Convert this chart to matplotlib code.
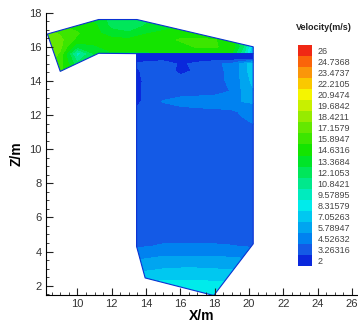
import numpy as np
import matplotlib
matplotlib.use('Agg')
import matplotlib.pyplot as plt
from matplotlib.colors import ListedColormap, BoundaryNorm
from matplotlib.patches import Polygon
from matplotlib.ticker import MultipleLocator

plt.rcParams['font.family'] = ['Liberation Sans', 'DejaVu Sans']

# contour levels shown in the legend
cbar_levels = [2, 3.26316, 4.52632, 5.78947, 7.05263, 8.31579, 9.57895,
               10.8421, 12.1053, 13.3684, 14.6316, 15.8947, 17.1579,
               18.4211, 19.6842, 20.9474, 22.2105, 23.4737, 24.7368, 26]
band_colors = ['#0a28dc', '#145ae6', '#0082f0', '#00a5f0', '#00c8f0',
               '#00ebeb', '#00ebbe', '#00e88c', '#00e65a', '#00e428',
               '#14e400', '#3ce600', '#64e800', '#96eb00', '#c8f000',
               '#f5f500', '#fac800', '#fa960a', '#fa640a', '#f02814']

# inlet duct outline and velocity samples (m/s)
duct_x = [8.25, 11.24, 13.47, 20.25, 20.25, 13.47, 11.24, 9.0]
duct_z = [16.75, 17.6, 17.6, 16.0, 15.6, 15.6, 15.62, 14.56]
duct_gx = [8.2, 9.0, 10.0, 11.0, 12.0, 13.0, 14.0, 15.0, 16.0, 17.0, 18.0, 19.0, 19.7, 20.4]
duct_gz = [14.4, 15.0, 15.6, 16.0, 16.4, 16.8, 17.2, 17.7]
duct_v = [
    [16.5, 16.0, 15.0, 14.5, 14.5, 14.5, 14.5, 14.5, 14.5, 14.5, 14.5, 14.5, 12.0, 6.0],
    [17.5, 16.5, 12.5, 13.5, 14.5, 14.5, 14.5, 14.5, 14.5, 14.5, 14.5, 14.5, 12.0, 6.0],
    [18.0, 17.0, 10.0, 13.5, 14.5, 14.5, 14.5, 14.5, 15.0, 15.0, 15.0, 14.5, 11.0, 5.0],
    [18.0, 17.5, 13.5, 14.5, 15.0, 15.0, 15.0, 15.5, 15.5, 16.0, 16.0, 15.5, 12.0, 6.0],
    [18.0, 17.5, 15.5, 15.0, 15.0, 15.0, 15.5, 15.5, 16.0, 16.0, 16.0, 15.0, 12.0, 6.0],
    [17.5, 17.0, 16.0, 15.0, 14.0, 13.5, 14.5, 15.0, 15.5, 15.5, 15.0, 14.0, 11.0, 6.0],
    [16.5, 16.0, 15.5, 15.0, 13.0, 12.8, 13.5, 14.0, 14.5, 14.0, 13.5, 12.0, 10.0, 6.0],
    [15.5, 15.0, 14.5, 14.0, 13.0, 12.8, 13.0, 13.0, 13.0, 13.0, 12.0, 11.0, 9.0, 6.0],
]

# main chamber outline and velocity samples (m/s)
cham_x = [13.45, 20.25, 20.25, 17.95, 13.95, 13.45]
cham_z = [15.6, 15.6, 4.45, 1.42, 2.45, 4.3]
cham_gx = [13.4, 14.2, 15.0, 16.0, 17.0, 18.0, 19.0, 19.6, 20.4]
cham_gz = [1.4, 2.2, 2.9, 3.6, 4.3, 5.0, 8.0, 11.0, 12.2, 12.8, 13.4, 14.0, 14.6, 15.0, 15.3, 15.7]
cham_v = [
    [9.2, 9.3, 9.4, 9.4, 9.4, 9.3, 9.2, 9.1, 9.0],
    [8.1, 8.3, 8.5, 8.5, 8.5, 8.4, 8.3, 8.2, 8.1],
    [6.8, 7.0, 7.2, 7.3, 7.3, 7.2, 7.1, 7.0, 6.9],
    [5.6, 5.8, 6.0, 6.0, 6.0, 6.0, 5.9, 5.8, 5.7],
    [4.4, 4.5, 4.7, 4.7, 4.7, 4.7, 4.6, 4.5, 4.4],
    [3.9, 3.9, 3.9, 3.9, 3.9, 3.9, 3.9, 3.9, 3.9],
    [3.9, 3.9, 3.9, 3.9, 3.9, 3.9, 3.9, 3.9, 3.9],
    [3.9, 3.9, 3.9, 3.9, 3.9, 3.9, 3.9, 4.0, 4.2],
    [3.5, 3.9, 3.9, 4.0, 4.1, 4.2, 4.3, 4.7, 5.2],
    [2.9, 3.8, 4.6, 5.0, 5.2, 5.3, 5.5, 5.8, 6.0],
    [2.8, 3.9, 3.9, 3.9, 3.9, 4.0, 4.6, 5.9, 7.2],
    [2.8, 3.8, 4.0, 3.8, 4.0, 4.1, 4.8, 6.0, 7.8],
    [3.0, 3.9, 4.1, 2.9, 3.5, 4.2, 4.8, 6.2, 8.4],
    [3.4, 4.0, 4.2, 3.0, 3.6, 4.3, 4.8, 6.2, 8.4],
    [2.6, 2.6, 2.6, 2.6, 2.6, 2.6, 2.7, 2.8, 3.0],
    [2.3, 2.3, 2.3, 2.3, 2.3, 2.3, 2.3, 2.3, 2.3],
]

bounds = cbar_levels + [cbar_levels[-1] + (cbar_levels[1] - cbar_levels[0])]
cmap = ListedColormap(band_colors)
norm = BoundaryNorm(bounds, cmap.N)

fig = plt.figure(figsize=(3.58, 3.23), dpi=100)
ax = fig.add_axes([46 / 358, 28 / 323, 311 / 358, 282.3 / 323])

for gx, gz, v, px, pz in [(duct_gx, duct_gz, duct_v, duct_x, duct_z),
                          (cham_gx, cham_gz, cham_v, cham_x, cham_z)]:
    X, Z = np.meshgrid(gx, gz)
    cs = ax.contourf(X, Z, np.array(v), levels=bounds, cmap=cmap, norm=norm)
    outline = Polygon(np.column_stack([px, pz]), closed=True, transform=ax.transData)
    cs.set_clip_path(outline)
    ax.add_patch(Polygon(np.column_stack([px, pz]), closed=True, fill=False,
                         edgecolor='#0a32d2', lw=0.8))

ax.set_xlim(8.17, 26.3)
ax.set_ylim(1.45, 18)
ax.spines['top'].set_visible(False)
ax.spines['right'].set_visible(False)
ax.xaxis.set_major_locator(MultipleLocator(2))
ax.xaxis.set_minor_locator(MultipleLocator(0.5))
ax.yaxis.set_major_locator(MultipleLocator(2))
ax.yaxis.set_minor_locator(MultipleLocator(0.5))
ax.tick_params(which='both', direction='in', color='#222222')
ax.tick_params(which='major', length=5, labelsize=8, labelcolor='#333333', pad=3)
ax.tick_params(which='minor', length=2.5)
ax.set_xticks([10, 12, 14, 16, 18, 20, 22, 24, 26])
ax.set_yticks([2, 4, 6, 8, 10, 12, 14, 16, 18])
ax.set_xlabel('X/m', fontsize=10, fontweight='bold', labelpad=0)
ax.set_ylabel('Z/m', fontsize=10, fontweight='bold', labelpad=4)

# legend bar
cax = fig.add_axes([298 / 358, 57 / 323, 14 / 358, 221 / 323])
cax.imshow(np.arange(20).reshape(-1, 1), cmap=cmap, origin='lower',
           aspect='auto', extent=[0, 1, 0, 20])
cax.set_xticks([])
cax.set_yticks(np.arange(20) + 0.5)
cax.set_yticklabels(['%g' % lv for lv in cbar_levels])
cax.yaxis.tick_right()
cax.tick_params(length=0, labelsize=6.5, labelcolor='#444444', pad=4)
for s in cax.spines.values():
    s.set_visible(False)
fig.text(324 / 358, 1 - 27 / 323, 'Velocity(m/s)', fontsize=6.5,
         fontweight='bold', ha='center', va='center', color='#222222')

fig.savefig('out.png', dpi=100)
